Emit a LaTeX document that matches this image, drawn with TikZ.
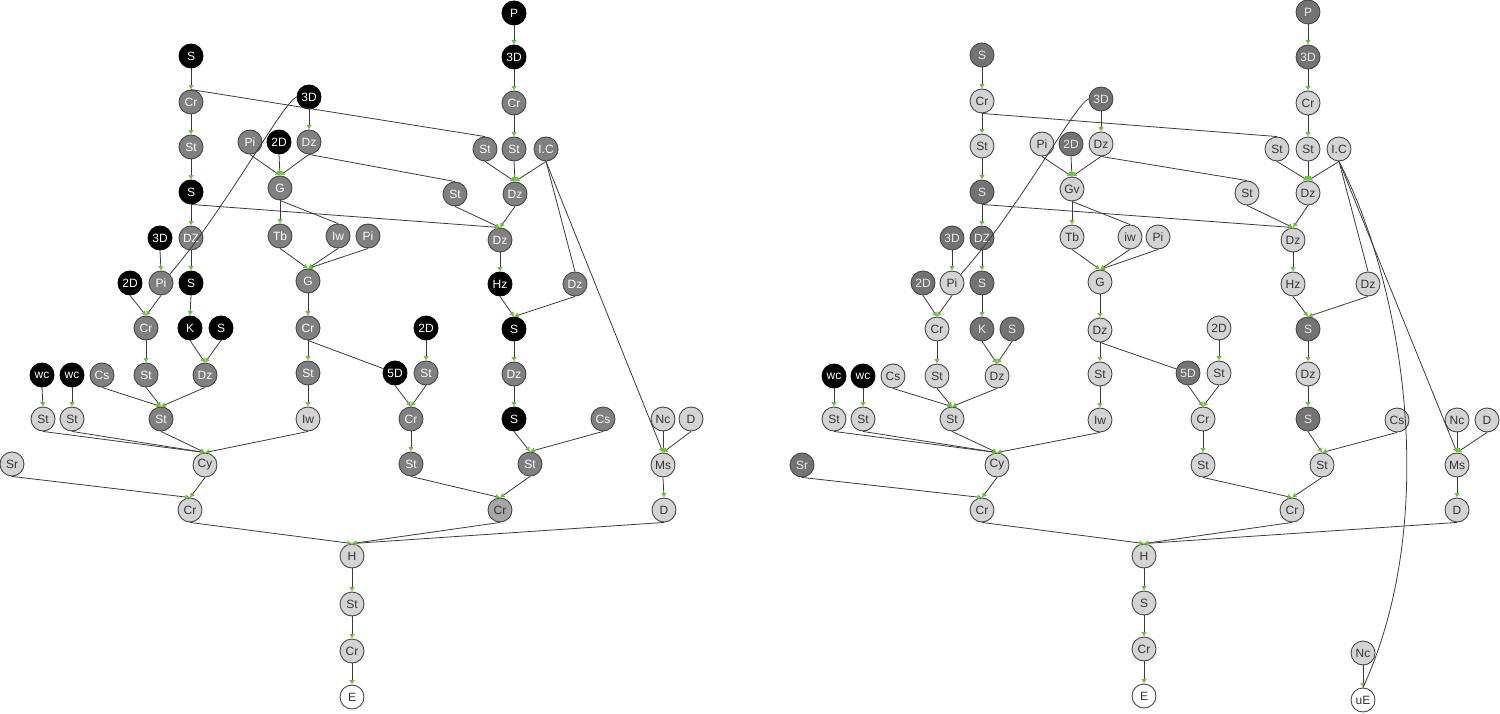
\documentclass[tikz,border=0pt]{standalone}
\usepackage{fontspec}
\setmainfont{Liberation Sans}
\usetikzlibrary{arrows.meta}
\definecolor{tipgreen}{HTML}{6CBF3A}
\definecolor{edgegray}{HTML}{3A3A3A}
\tikzset{
    nd/.style={circle, draw=black!72, line width=0.9pt, minimum size=24pt, inner sep=0pt, font=\fontsize{12}{12}\selectfont},
    blk/.style={nd, fill=black, draw=black, text=white},
    gry/.style={nd, fill=black!50, text=white},
    drk/.style={nd, fill=black!55, text=black!8},
    mid/.style={nd, fill=black!35, text=black!80},
    lgt/.style={nd, fill=black!17, text=black!80},
    wht/.style={nd, fill=white, text=black!80}
}

\begin{document}
\begin{tikzpicture}[x=1pt, y=-1pt,
    arrow/.style={-{Latex[length=4.5pt,width=5.5pt,color=tipgreen]}, draw=edgegray, line width=0.8pt},
    link/.style={draw=edgegray, line width=0.8pt}]

\useasboundingbox (0,0) rectangle (1500,714);

% left tree
\node [blk] (aS1) at (191,56) {S};
\node [gry] (aCr1) at (191,102) {Cr};
\node [gry] (aSt1) at (191,147) {St};
\node [blk] (aS2) at (191,192) {S};
\node [gry] (aDZ) at (191,238) {DZ};
\node [blk] (a3Da) at (160,238) {3D};
\node [blk] (a2Da) at (130,283) {2D};
\node [gry] (aPia) at (161,283) {Pi};
\node [blk] (aS3) at (191,283) {S};
\node [gry] (aCr2) at (146,328) {Cr};
\node [blk] (aK) at (190,328) {K};
\node [blk] (aS4) at (221,328) {S};
\node [blk] (awc1) at (42,375) {wc};
\node [blk] (awc2) at (72,375) {wc};
\node [gry] (aCs1) at (102,375) {Cs};
\node [gry] (aSt2) at (146,375) {St};
\node [gry] (aDz2) at (205,375) {Dz};
\node [lgt] (aSt3) at (43,419) {St};
\node [lgt] (aSt4) at (72,419) {St};
\node [gry] (aSt5) at (161,419) {St};
\node [lgt] (aCy) at (205,465) {Cy};
\node [lgt] (aSr) at (12,464) {Sr};
\node [lgt] (aCr3) at (190,510) {Cr};
\node [blk] (a3Db) at (309,97) {3D};
\node [gry] (aPib) at (250,142) {Pi};
\node [blk] (a2Db) at (279,142) {2D};
\node [gry] (aDz3) at (309,142) {Dz};
\node [gry] (aG1) at (280,188) {G};
\node [gry] (aTb) at (280,236) {Tb};
\node [gry] (aIw1) at (338,236) {Iw};
\node [gry] (aPic) at (368,236) {Pi};
\node [gry] (aG2) at (308,281) {G};
\node [gry] (aCr4) at (308,328) {Cr};
\node [gry] (aSt6) at (308,373) {St};
\node [lgt] (aIw2) at (308,419) {Iw};
\node [blk] (a2Dc) at (426,328) {2D};
\node [blk] (a5D) at (395,373) {5D};
\node [gry] (aSt7) at (426,373) {St};
\node [gry] (aCr5) at (411,419) {Cr};
\node [gry] (aSt8) at (411,464) {St};
\node [blk] (aP) at (514,13) {P};
\node [blk] (a3Dc) at (514,57) {3D};
\node [gry] (aCr6) at (514,103) {Cr};
\node [gry] (aSt9) at (485,149) {St};
\node [gry] (aSt10) at (514,149) {St};
\node [gry] (aIC) at (546,149) {I.C};
\node [gry] (aSt11) at (455,194) {St};
\node [gry] (aDz4) at (515,194) {Dz};
\node [gry] (aDz5) at (500,240) {Dz};
\node [blk] (aHz) at (500,284) {Hz};
\node [gry] (aDz6) at (575,284) {Dz};
\node [blk] (aS5) at (514,329) {S};
\node [gry] (aDz7) at (514,374) {Dz};
\node [blk] (aS6) at (514,419) {S};
\node [gry] (aCs2) at (603,419) {Cs};
\node [gry] (aSt12) at (530,464) {St};
\node [mid] (aCr7) at (500,510) {Cr};
\node [lgt] (aNc) at (663,419) {Nc};
\node [lgt] (aD1) at (691,419) {D};
\node [lgt] (aMs) at (663,465) {Ms};
\node [lgt] (aD2) at (664,510) {D};
\node [lgt] (aH) at (352,556) {H};
\node [lgt] (aSt13) at (352,604) {St};
\node [lgt] (aCr8) at (352,651) {Cr};
\node [wht] (aE) at (352,697) {E};

\draw [arrow] (aS1.south) -- (aCr1.north);
\draw [arrow] (aCr1.south) -- (aSt1.north);
\draw [arrow] (aSt1.south) -- (aS2.north);
\draw [arrow] (aS2.south) -- (aDZ.north);
\draw [arrow] (aDZ.south) -- (aS3.north);
\draw [arrow] (aS3.south) -- (aK.north);
\draw [arrow] (a3Da.south) -- (aPia.north);
\draw [arrow] (a2Da.south) -- (aCr2.north);
\draw [arrow] (aPia.south) -- (aCr2.north);
\draw [arrow] (aCr2.south) -- (aSt2.north);
\draw [arrow] (aK.south) -- (aDz2.north);
\draw [arrow] (aS4.south) -- (aDz2.north);
\draw [arrow] (awc1.south) -- (aSt3.north);
\draw [arrow] (awc2.south) -- (aSt4.north);
\draw [arrow] (aCs1.south) -- (aSt5.north);
\draw [arrow] (aSt2.south) -- (aSt5.north);
\draw [arrow] (aDz2.south) -- (aSt5.north);
\draw [arrow] (aSt3.south) -- (aCy.north);
\draw [arrow] (aSt4.south) -- (aCy.north);
\draw [arrow] (aSt5.south) -- (aCy.north);
\draw [arrow] (aIw2.south) -- (aCy.north);
\draw [arrow] (aCy.south) -- (aCr3.north);
\draw [arrow] (aSr.south) -- (aCr3.north);
\draw [arrow] (aCr3.south) -- (aH.north);
\draw [arrow] (a3Db.south) -- (aDz3.north);
\draw [arrow] (aPib.south) -- (aG1.north);
\draw [arrow] (a2Db.south) -- (aG1.north);
\draw [arrow] (aDz3.south) -- (aG1.north);
\draw [arrow] (aG1.south) -- (aTb.north);
\draw [arrow] (aTb.south) -- (aG2.north);
\draw [arrow] (aIw1.south) -- (aG2.north);
\draw [arrow] (aPic.south) -- (aG2.north);
\draw [arrow] (aG2.south) -- (aCr4.north);
\draw [arrow] (aCr4.south) -- (aSt6.north);
\draw [arrow] (aSt6.south) -- (aIw2.north);
\draw [arrow] (a2Dc.south) -- (aSt7.north);
\draw [arrow] (a5D.south) -- (aCr5.north);
\draw [arrow] (aSt7.south) -- (aCr5.north);
\draw [arrow] (aCr5.south) -- (aSt8.north);
\draw [arrow] (aSt8.south) -- (aCr7.north);
\draw [arrow] (aP.south) -- (a3Dc.north);
\draw [arrow] (a3Dc.south) -- (aCr6.north);
\draw [arrow] (aCr6.south) -- (aSt10.north);
\draw [arrow] (aSt9.south) -- (aDz4.north);
\draw [arrow] (aSt10.south) -- (aDz4.north);
\draw [arrow] (aIC.south) -- (aDz4.north);
\draw [arrow] (aDz4.south) -- (aDz5.north);
\draw [arrow] (aSt11.south) -- (aDz5.north);
\draw [arrow] (aS2.south) -- (aDz5.north);
\draw [arrow] (aDz5.south) -- (aHz.north);
\draw [arrow] (aHz.south) -- (aS5.north);
\draw [arrow] (aDz6.south) -- (aS5.north);
\draw [arrow] (aS5.south) -- (aDz7.north);
\draw [arrow] (aDz7.south) -- (aS6.north);
\draw [arrow] (aS6.south) -- (aSt12.north);
\draw [arrow] (aCs2.south) -- (aSt12.north);
\draw [arrow] (aSt12.south) -- (aCr7.north);
\draw [arrow] (aNc.south) -- (aMs.north);
\draw [arrow] (aD1.south) -- (aMs.north);
\draw [arrow] (aIC.south) -- (aMs.north);
\draw [arrow] (aMs.south) -- (aD2.north);
\draw [arrow] (aCr7.south) -- (aH.north);
\draw [arrow] (aD2.south) -- (aH.north);
\draw [arrow] (aH.south) -- (aSt13.north);
\draw [arrow] (aSt13.south) -- (aCr8.north);
\draw [arrow] (aCr8.south) -- (aE.north);

% cross links
\draw [link] (aCr1.north) -- (aSt9.north);
\draw [link] (aDz3.south) -- (aSt11.north);
\draw [link] (aG1.south) -- (aIw1.north);
\draw [link] (aCr4.south) -- (a5D);
\draw [link] (aIC.south) -- (aDz6.north);
\draw [link] (a3Db.west) .. controls (283,102) and (225,210) .. (aPia.north east);

% right tree
\node [drk] (bS1) at (982,55) {S};
\node [lgt] (bCr1) at (982,101) {Cr};
\node [lgt] (bSt1) at (982,146) {St};
\node [drk] (bS2) at (982,192) {S};
\node [drk] (bDZ) at (982,238) {DZ};
\node [drk] (b3Da) at (952,238) {3D};
\node [drk] (b2Da) at (923,283) {2D};
\node [lgt] (bPia) at (952,283) {Pi};
\node [drk] (bS3) at (982,283) {S};
\node [lgt] (bCr2) at (937,329) {Cr};
\node [drk] (bK) at (982,329) {K};
\node [drk] (bS4) at (1012,329) {S};
\node [blk] (bwc1) at (834,376) {wc};
\node [blk] (bwc2) at (863,376) {wc};
\node [lgt] (bCs1) at (893,376) {Cs};
\node [lgt] (bSt2) at (937,376) {St};
\node [lgt] (bDz2) at (997,376) {Dz};
\node [lgt] (bSt3) at (834,419) {St};
\node [lgt] (bSt4) at (863,419) {St};
\node [lgt] (bSt5) at (952,419) {St};
\node [lgt] (bCy) at (997,465) {Cy};
\node [drk] (bSr) at (802,465) {Sr};
\node [lgt] (bCr3) at (982,510) {Cr};
\node [drk] (b3Db) at (1101,99) {3D};
\node [lgt] (bPib) at (1042,144) {Pi};
\node [drk] (b2Db) at (1071,144) {2D};
\node [lgt] (bDz3) at (1101,144) {Dz};
\node [lgt] (bGv) at (1072,189) {Gv};
\node [lgt] (bTb) at (1072,237) {Tb};
\node [lgt] (bIw1) at (1130,237) {iw};
\node [lgt] (bPic) at (1158,237) {Pi};
\node [lgt] (bG) at (1100,282) {G};
\node [lgt] (bDz8) at (1100,330) {Dz};
\node [lgt] (bSt6) at (1100,374) {St};
\node [lgt] (bIw2) at (1100,420) {Iw};
\node [lgt] (b2Dc) at (1219,328) {2D};
\node [drk] (b5D) at (1188,373) {5D};
\node [lgt] (bSt7) at (1219,373) {St};
\node [lgt] (bCr5) at (1203,419) {Cr};
\node [lgt] (bSt8) at (1203,465) {St};
\node [drk] (bP) at (1308,12) {P};
\node [drk] (b3Dc) at (1308,57) {3D};
\node [lgt] (bCr6) at (1308,103) {Cr};
\node [lgt] (bSt9) at (1277,149) {St};
\node [lgt] (bSt10) at (1308,149) {St};
\node [lgt] (bIC) at (1339,149) {I.C};
\node [lgt] (bSt11) at (1247,193) {St};
\node [lgt] (bDz4) at (1308,193) {Dz};
\node [lgt] (bDz5) at (1293,240) {Dz};
\node [lgt] (bHz) at (1293,284) {Hz};
\node [lgt] (bDz6) at (1368,284) {Dz};
\node [drk] (bS5) at (1308,329) {S};
\node [lgt] (bDz7) at (1308,374) {Dz};
\node [drk] (bS6) at (1308,419) {S};
\node [lgt] (bCs2) at (1397,420) {Cs};
\node [lgt] (bSt12) at (1322,465) {St};
\node [lgt] (bCr7) at (1292,510) {Cr};
\node [lgt] (bNc1) at (1457,420) {Nc};
\node [lgt] (bD1) at (1487,420) {D};
\node [lgt] (bMs) at (1457,465) {Ms};
\node [lgt] (bD2) at (1457,510) {D};
\node [lgt] (bH) at (1144,556) {H};
\node [lgt] (bS7) at (1144,603) {S};
\node [lgt] (bCr8) at (1144,649) {Cr};
\node [wht] (bE) at (1144,696) {E};
\node [lgt] (bNc2) at (1363,653) {Nc};
\node [wht] (buE) at (1363,700) {uE};

\draw [arrow] (bS1.south) -- (bCr1.north);
\draw [arrow] (bCr1.south) -- (bSt1.north);
\draw [arrow] (bSt1.south) -- (bS2.north);
\draw [arrow] (bS2.south) -- (bDZ.north);
\draw [arrow] (bDZ.south) -- (bS3.north);
\draw [arrow] (bS3.south) -- (bK.north);
\draw [arrow] (b3Da.south) -- (bPia.north);
\draw [arrow] (b2Da.south) -- (bCr2.north);
\draw [arrow] (bPia.south) -- (bCr2.north);
\draw [arrow] (bCr2.south) -- (bSt2.north);
\draw [arrow] (bK.south) -- (bDz2.north);
\draw [arrow] (bS4.south) -- (bDz2.north);
\draw [arrow] (bwc1.south) -- (bSt3.north);
\draw [arrow] (bwc2.south) -- (bSt4.north);
\draw [arrow] (bCs1.south) -- (bSt5.north);
\draw [arrow] (bSt2.south) -- (bSt5.north);
\draw [arrow] (bDz2.south) -- (bSt5.north);
\draw [arrow] (bSt3.south) -- (bCy.north);
\draw [arrow] (bSt4.south) -- (bCy.north);
\draw [arrow] (bSt5.south) -- (bCy.north);
\draw [arrow] (bIw2.south) -- (bCy.north);
\draw [arrow] (bCy.south) -- (bCr3.north);
\draw [arrow] (bSr.south) -- (bCr3.north);
\draw [arrow] (bCr3.south) -- (bH.north);
\draw [arrow] (b3Db.south) -- (bDz3.north);
\draw [arrow] (bPib.south) -- (bGv.north);
\draw [arrow] (b2Db.south) -- (bGv.north);
\draw [arrow] (bDz3.south) -- (bGv.north);
\draw [arrow] (bGv.south) -- (bTb.north);
\draw [arrow] (bTb.south) -- (bG.north);
\draw [arrow] (bIw1.south) -- (bG.north);
\draw [arrow] (bPic.south) -- (bG.north);
\draw [arrow] (bG.south) -- (bDz8.north);
\draw [arrow] (bDz8.south) -- (bSt6.north);
\draw [arrow] (bSt6.south) -- (bIw2.north);
\draw [arrow] (b2Dc.south) -- (bSt7.north);
\draw [arrow] (b5D.south) -- (bCr5.north);
\draw [arrow] (bSt7.south) -- (bCr5.north);
\draw [arrow] (bCr5.south) -- (bSt8.north);
\draw [arrow] (bSt8.south) -- (bCr7.north);
\draw [arrow] (bP.south) -- (b3Dc.north);
\draw [arrow] (b3Dc.south) -- (bCr6.north);
\draw [arrow] (bCr6.south) -- (bSt10.north);
\draw [arrow] (bSt9.south) -- (bDz4.north);
\draw [arrow] (bSt10.south) -- (bDz4.north);
\draw [arrow] (bIC.south) -- (bDz4.north);
\draw [arrow] (bDz4.south) -- (bDz5.north);
\draw [arrow] (bSt11.south) -- (bDz5.north);
\draw [arrow] (bS2.south) -- (bDz5.north);
\draw [arrow] (bDz5.south) -- (bHz.north);
\draw [arrow] (bHz.south) -- (bS5.north);
\draw [arrow] (bDz6.south) -- (bS5.north);
\draw [arrow] (bS5.south) -- (bDz7.north);
\draw [arrow] (bDz7.south) -- (bS6.north);
\draw [arrow] (bS6.south) -- (bSt12.north);
\draw [arrow] (bCs2.south) -- (bSt12.north);
\draw [arrow] (bSt12.south) -- (bCr7.north);
\draw [arrow] (bNc1.south) -- (bMs.north);
\draw [arrow] (bD1.south) -- (bMs.north);
\draw [arrow] (bIC.south) -- (bMs.north);
\draw [arrow] (bMs.south) -- (bD2.north);
\draw [arrow] (bCr7.south) -- (bH.north);
\draw [arrow] (bD2.south) -- (bH.north);
\draw [arrow] (bH.south) -- (bS7.north);
\draw [arrow] (bS7.south) -- (bCr8.north);
\draw [arrow] (bCr8.south) -- (bE.north);
\draw [arrow] (bNc2.south) -- (buE.north);

% cross links
\draw [link] (bCr1.south) -- (bSt9.north);
\draw [link] (bDz3.south) -- (bSt11.north);
\draw [link] (bGv.south) -- (bIw1.north);
\draw [link] (bDz8.south) -- (b5D);
\draw [link] (bIC.south) -- (bDz6.north);
\draw [link] (b3Db.west) .. controls (1075,104) and (1017,212) .. (bPia.north east);
\draw [link] (bIC.south) .. controls (1405,290) and (1440,520) .. (buE.north);

\end{tikzpicture}
\end{document}
